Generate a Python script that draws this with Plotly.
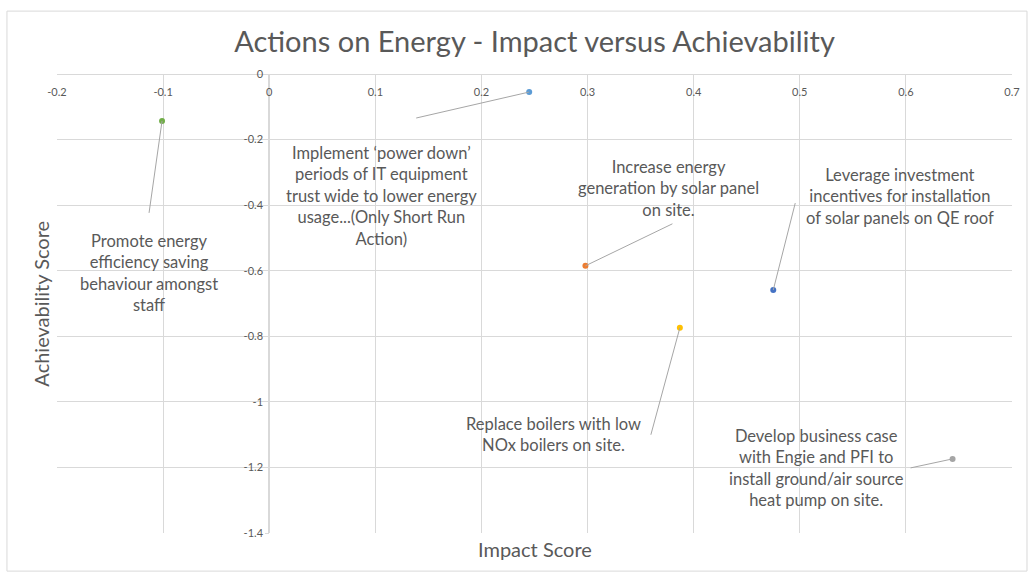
import plotly.graph_objects as go

# ---- data ----
actions = [
    "Implement \u2018power down\u2019<br>periods of IT equipment<br>trust wide to lower energy<br>usage...(Only Short Run<br>Action)",
    "Increase energy<br>generation by solar panel<br>on site.",
    "Develop business case<br>with Engie and PFI to<br>install ground/air source<br>heat pump on site.",
    "Replace boilers with low<br>NOx boilers on site.",
    "Leverage investment<br>incentives for installation<br>of solar panels on QE roof",
    "Promote energy<br>efficiency saving<br>behaviour amongst<br>staff",
]
impact = [0.245, 0.298, 0.644, 0.387, 0.475, -0.101]
achievability = [-0.055, -0.585, -1.174, -0.774, -0.659, -0.143]
colors = ["#5B9BD5", "#ED7D31", "#A5A5A5", "#FFC000", "#4472C4", "#70AD47"]

x_tick_vals = [-0.2, -0.1, 0, 0.1, 0.2, 0.3, 0.4, 0.5, 0.6, 0.7]
x_tick_text = ["-0.2", "-0.1", "0", "0.1", "0.2", "0.3", "0.4", "0.5", "0.6", "0.7"]
y_tick_vals = [0, -0.2, -0.4, -0.6, -0.8, -1.0, -1.2, -1.4]
y_tick_text = ["0", "-0.2", "-0.4", "-0.6", "-0.8", "-1", "-1.2", "-1.4"]

x_range = [-0.2, 0.7]
y_range = [-1.4, 0]

# label placement (pixel offsets from each point): leader end, text centre
leader_off = [(-113, -26), (87, 42), (-42, -9), (-29, -107), (22, 87), (-13, -92)]
text_off = [(-148, -104), (83, 77), (-136, -9), (-126, -107), (127, 94), (-13, -152)]

FONT = "Lato, 'Open Sans', sans-serif"
TXT = "#595959"
GRID = "#D9D9D9"

fig = go.Figure()
for name, xv, yv, c in zip(actions, impact, achievability, colors):
    fig.add_trace(go.Scatter(x=[xv], y=[yv], mode="markers",
                             marker=dict(color=c, size=6),
                             name=name.replace("<br>", " "), showlegend=False))

shapes = []
annotations = []
for i in range(len(actions)):
    lx, ly = leader_off[i]
    shapes.append(dict(type="line", xref="x", yref="y",
                       xsizemode="pixel", ysizemode="pixel",
                       xanchor=impact[i], yanchor=achievability[i],
                       x0=0, y0=0, x1=lx, y1=ly,
                       line=dict(color="#A6A6A6", width=1)))
    tx, ty = text_off[i]
    annotations.append(dict(x=impact[i], y=achievability[i], xref="x", yref="y",
                            xshift=tx, yshift=ty, text=actions[i], showarrow=False,
                            align="center", xanchor="center", yanchor="middle",
                            font=dict(family=FONT, size=16.5, color=TXT)))

# outer chart frame
shapes.append(dict(type="rect", xref="paper", yref="paper",
                   x0=-0.0524, x1=1.0157, y0=-0.083, y1=1.137,
                   line=dict(color=GRID, width=1), layer="below"))

annotations.append(dict(text="Impact Score", xref="paper", yref="paper",
                        x=0.5, y=-0.004, xanchor="center", yanchor="top",
                        showarrow=False, font=dict(family=FONT, size=20, color=TXT)))
annotations.append(dict(text="Achievability Score", xref="paper", yref="paper",
                        x=-0.003, y=0.5, xanchor="right", yanchor="middle", textangle=-90,
                        showarrow=False, font=dict(family=FONT, size=20, color=TXT)))

yaxis_pos = (0 - x_range[0]) / (x_range[1] - x_range[0])

fig.update_layout(
    width=1032, height=572,
    margin=dict(l=57, r=20, t=74, b=39, autoexpand=False),
    paper_bgcolor="white", plot_bgcolor="white",
    title=dict(text="Actions on Energy - Impact versus Achievability",
               x=0.5, xref="paper", xanchor="center", y=0.926, yanchor="middle",
               font=dict(family=FONT, size=29, color=TXT)),
    xaxis=dict(range=x_range, tickvals=x_tick_vals, ticktext=x_tick_text,
               anchor="free", position=1.0, side="bottom",
               ticks="outside", ticklen=8, tickcolor="rgba(0,0,0,0)",
               showgrid=True, gridcolor=GRID, zeroline=True, zerolinecolor=GRID,
               showline=True, linecolor=GRID, automargin=False,
               tickfont=dict(family=FONT, size=11, color=TXT), domain=[0, 1]),
    yaxis=dict(range=y_range, tickvals=y_tick_vals, ticktext=y_tick_text,
               anchor="free", position=yaxis_pos, automargin=False,
               showgrid=True, gridcolor=GRID, zeroline=False,
               showline=True, linecolor=GRID, ticks="outside", ticklen=4, tickcolor=GRID,
               tickfont=dict(family=FONT, size=11, color=TXT)),
    shapes=shapes, annotations=annotations,
)

fig.write_html("out.html", config={"displayModeBar": False},
               post_script="document.body.style.margin='0';document.body.style.overflow='hidden';")
